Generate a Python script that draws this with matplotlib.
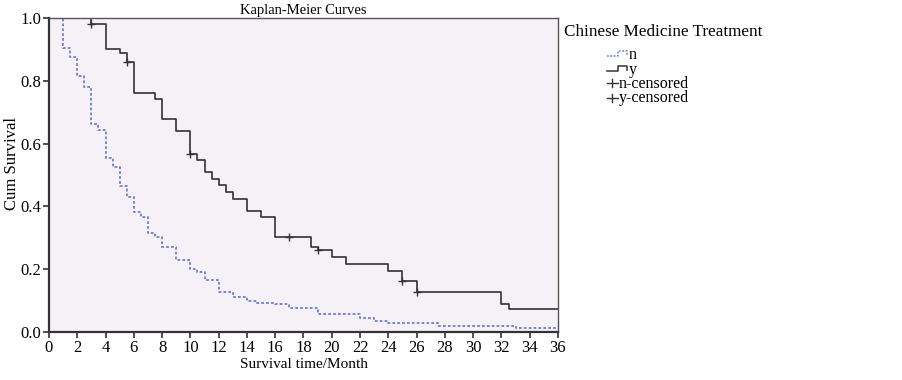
import matplotlib
matplotlib.use('Agg')
import matplotlib.pyplot as plt
from matplotlib.lines import Line2D

plt.rcParams['font.family'] = ['Liberation Serif', 'DejaVu Serif']

# Kaplan-Meier step data (months, cumulative survival)
y_time = [0, 3, 4, 5, 5.5, 6, 7.5, 8, 9, 10, 10.5, 11, 11.5, 12, 12.5, 13,
          14, 15, 16, 18.5, 19, 20, 21, 24, 25, 26, 32, 32.5, 36]
y_surv = [1.0, 0.98, 0.90, 0.89, 0.86, 0.762, 0.741, 0.679, 0.640, 0.567,
          0.549, 0.51, 0.487, 0.467, 0.447, 0.425, 0.385, 0.365, 0.304,
          0.272, 0.26, 0.24, 0.217, 0.195, 0.162, 0.126, 0.088, 0.074, 0.074]
y_cens_time = [3, 5.5, 10, 17, 19, 25, 26]
y_cens_surv = [0.98, 0.86, 0.567, 0.304, 0.26, 0.162, 0.126]

n_time = [0, 1, 1.5, 2, 2.5, 3, 3.5, 4, 4.5, 5, 5.5, 6, 6.5, 7, 7.5, 8, 9,
          10, 10.5, 11, 12, 13, 14, 14.7, 16, 17, 19, 22, 23, 24, 27.5, 33, 36]
n_surv = [1.0, 0.905, 0.877, 0.815, 0.781, 0.662, 0.643, 0.553, 0.527, 0.465,
          0.431, 0.381, 0.365, 0.314, 0.304, 0.272, 0.229, 0.20, 0.192, 0.166,
          0.128, 0.112, 0.10, 0.093, 0.089, 0.075, 0.056, 0.044, 0.036, 0.028,
          0.018, 0.012, 0.012]

legend_labels = ['n', 'y', 'n-censored', 'y-censored']

W, H = 903, 380
fig = plt.figure(figsize=(W / 100, H / 100), dpi=100)
ax = fig.add_axes([49 / W, 48 / H, 509 / W, 314 / H])
ax.set_facecolor('#f6f1f6')

n_color = '#6a7fd0'
y_color = '#333333'
n_dash = (0, (1.5, 1.2))

ax.step(n_time, n_surv, where='post', color=n_color, lw=1.3, linestyle=n_dash)
ax.step(y_time, y_surv, where='post', color=y_color, lw=1.2)
ax.plot(y_cens_time, y_cens_surv, linestyle='none', marker='+',
        markersize=6, color=y_color, markeredgewidth=1.0)

ax.set_xlim(0, 36)
ax.set_ylim(0, 1.0)
ax.set_xticks(range(0, 37, 2))
ax.set_yticks([0, 0.2, 0.4, 0.6, 0.8, 1.0])
ax.set_yticklabels(['0.0', '0.2', '0.4', '0.6', '0.8', '1.0'])
ax.tick_params(direction='out', length=4.5, width=1.2, labelsize=12,
               color='#333333', pad=1)
for side in ['left', 'bottom']:
    ax.spines[side].set_linewidth(1.6)
    ax.spines[side].set_color('#333333')
for side in ['top', 'right']:
    ax.spines[side].set_linewidth(1.0)
    ax.spines[side].set_color('#555555')

ax.set_xlabel('Survival time/Month', fontsize=11, labelpad=2)
fig.text(12 / W, 1 - 163 / H, 'Cum Survival', rotation=90, fontsize=12,
         ha='center', va='center')
ax.set_title('Kaplan-Meier Curves', fontsize=10.5, pad=3)

# legend drawn outside the axes on the right
fig.text(564 / W, 1 - 32 / H, 'Chinese Medicine Treatment',
         fontsize=12.3, va='center', ha='left')


def px(x, y):
    return x / W, 1 - y / H


rows = [54, 68.5, 83, 97.5]
for i, (lab, ry) in enumerate(zip(legend_labels, rows)):
    if i < 2:
        xs = [607, 618, 618, 627, 627]
        ys = [ry + 2, ry + 2, ry - 3, ry - 3, ry + 1]
        pts = [px(a, b) for a, b in zip(xs, ys)]
        style = dict(color=n_color, lw=1.1, linestyle=(0, (1.2, 1.0))) if i == 0 \
            else dict(color=y_color, lw=1.1)
        fig.add_artist(Line2D([p[0] for p in pts], [p[1] for p in pts],
                              transform=fig.transFigure, **style))
        tx = 629
    else:
        a, b = px(607, ry), px(618, ry)
        fig.add_artist(Line2D([a[0], b[0]], [a[1], b[1]], color=y_color,
                              lw=1.0, transform=fig.transFigure))
        c, d = px(612.5, ry - 4), px(612.5, ry + 4)
        fig.add_artist(Line2D([c[0], d[0]], [c[1], d[1]], color=y_color,
                              lw=1.0, transform=fig.transFigure))
        tx = 619
    fig.text(tx / W, 1 - (ry + 1) / H, lab, fontsize=11.5, va='center', ha='left')

fig.savefig('out.png', dpi=100)
